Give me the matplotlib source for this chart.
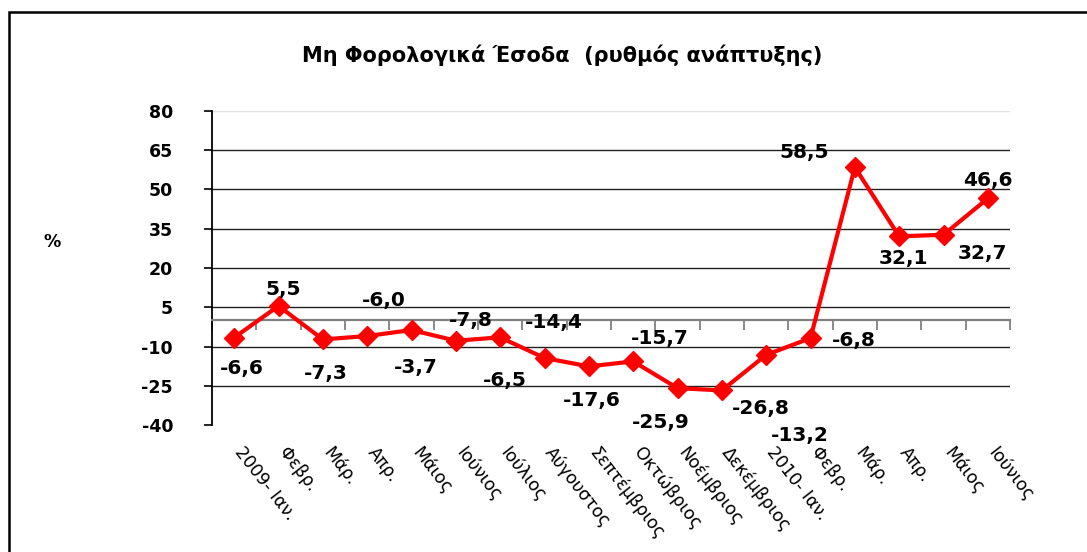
import matplotlib
matplotlib.use("Agg")
import matplotlib.pyplot as plt
import matplotlib.transforms as mtransforms
from matplotlib.patches import Rectangle

# data
months = ["2009- Ιαν.", "Φεβρ.", "Μάρ.", "Απρ.", "Μάιος", "Ιούνιος", "Ιούλιος",
          "Αύγουστος", "Σεπτέμβριος", "Οκτώβριος", "Νοέμβριος", "Δεκέμβριος",
          "2010- Ιαν.", "Φεβρ.", "Μάρ.", "Απρ.", "Μάιος", "Ιούνιος"]
growth = [-6.6, 5.5, -7.3, -6.0, -3.7, -7.8, -6.5, -14.4, -17.6, -15.7,
          -25.9, -26.8, -13.2, -6.8, 58.5, 32.1, 32.7, 46.6]
yticks = [-40, -25, -10, 5, 20, 35, 50, 65, 80]

# label offsets in pixels (layout only)
label_offsets = [(8, -31), (5, 16), (3, -34), (17, 36), (4, -37), (15, 20),
                 (5, -43), (9, 36), (3, -34), (27, 23), (-17, -34), (39, -18),
                 (34, -81), (43, -2), (-51, 15), (4, -22), (39, -19), (0, 18)]

fig = plt.figure(figsize=(10.87, 5.52), dpi=100)
ax = fig.add_axes([212 / 1087, 1 - 425 / 552, 798 / 1087, 314 / 552])

x = list(range(len(growth)))

# gridlines
for v in yticks[1:-1]:
    ax.axhline(v, color="#222222", lw=1.0, zorder=1)
ax.axhline(80, color="#e0e0e0", lw=1.0, zorder=1)

ax.plot(x, growth, color="#ff0000", lw=3.0, marker="D", markersize=10,
        markeredgecolor="#ff0000", zorder=3)

for xi, v, (dx, dy) in zip(x, growth, label_offsets):
    ax.annotate(f"{v:.1f}".replace(".", ","), (xi, v), xytext=(dx, dy),
                textcoords="offset pixels", ha="center", va="center",
                fontsize=14.5, fontweight="bold", zorder=4)

ax.set_xlim(-0.5, len(growth) - 0.5)
ax.set_ylim(-40, 80)
ax.set_yticks(yticks)
ax.set_yticklabels([str(t) for t in yticks], fontsize=12.5, fontweight="bold")
ax.tick_params(axis="y", direction="out", length=6, width=1.2, pad=22)

ax.spines["top"].set_visible(False)
ax.spines["right"].set_visible(False)
ax.spines["left"].set_linewidth(1.3)
ax.spines["bottom"].set_position(("data", 0))
ax.spines["bottom"].set_color("#808080")
ax.spines["bottom"].set_linewidth(1.6)
ax.set_xticks([i - 0.5 for i in range(len(growth) + 1)])
ax.set_xticklabels([])
ax.tick_params(axis="x", direction="out", length=7, width=1.3, color="#808080")

trans = mtransforms.blended_transform_factory(ax.transData, ax.transAxes)
for xi, lab in zip(x, months):
    ax.text(xi + 0.25, -0.06, lab, transform=trans, rotation=-52,
            rotation_mode="anchor", ha="left", va="top", fontsize=12.5)

fig.text(562 / 1087, 1 - 55 / 552, "Μη Φορολογικά Έσοδα  (ρυθμός ανάπτυξης)",
         ha="center", va="center", fontsize=15, fontweight="bold")
fig.text(52 / 1087, 1 - 242 / 552, "%", ha="center", va="center",
         fontsize=12.5, fontweight="bold")

# outer frame
fig.patches.append(Rectangle((9 / 1087, -0.1), 2, 1.1 - 12 / 552,
                             transform=fig.transFigure, fill=False,
                             edgecolor="black", lw=1.8))

fig.savefig("out.png", dpi=100)
